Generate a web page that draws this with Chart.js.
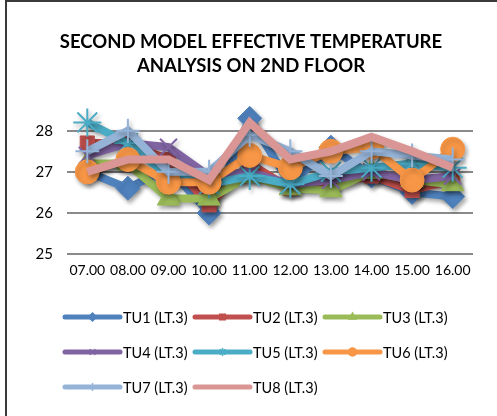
<!DOCTYPE html>
<html>
<head>
<meta charset="utf-8">
<script src="https://cdn.jsdelivr.net/npm/chart.js@4/dist/chart.umd.min.js"></script>
<style>
  body { margin: 0; background: #fff; }
  #wrap { position: relative; width: 497px; height: 416px; }
  #frame { position: absolute; left: 5px; top: 0; width: 492px; height: 416px;
           border-left: 2px solid #3a3a3a; border-top: 2px solid #3a3a3a; box-sizing: border-box; pointer-events: none; }
</style>
</head>
<body>
<div id="wrap">
  <canvas id="chart" width="497" height="416"></canvas>
  <div id="frame"></div>
</div>
<script>
// --- data ---
const hours = ['07.00', '08.00', '09.00', '10.00', '11.00', '12.00', '13.00', '14.00', '15.00', '16.00'];
const tu1 = [27.0, 26.6, 27.1, 26.0, 28.3, 26.7, 27.6, 26.9, 26.5, 26.4];
const tu2 = [27.7, 27.7, 27.3, 26.2, 27.2, 26.6, 26.7, 26.9, 26.55, 26.8];
const tu3 = [27.2, 27.2, 26.35, 26.35, 26.9, 26.6, 26.55, 27.0, 26.8, 26.7];
const tu4 = [27.4, 27.7, 27.6, 26.9, 27.0, 26.7, 26.8, 27.0, 26.8, 26.9];
const tu5 = [28.2, 27.7, 26.9, 26.7, 26.9, 26.7, 27.0, 27.1, 27.2, 27.1];
const tu6 = [27.0, 27.3, 26.75, 26.75, 27.4, 27.1, 27.5, 27.6, 26.8, 27.55];
const tu7 = [27.5, 28.0, 27.0, 27.0, 27.9, 27.5, 26.9, 27.5, 27.4, 27.3];
const tu8 = [27.0, 27.3, 27.3, 26.8, 28.2, 27.3, 27.5, 27.85, 27.5, 27.1];
const yTicks = [25, 26, 27, 28];

const seriesNames = ['TU1 (LT.3)', 'TU2 (LT.3)', 'TU3 (LT.3)', 'TU4 (LT.3)', 'TU5 (LT.3)', 'TU6 (LT.3)', 'TU7 (LT.3)', 'TU8 (LT.3)'];
const seriesData = [tu1, tu2, tu3, tu4, tu5, tu6, tu7, tu8];
const colors = ['#4F81BD', '#C0504D', '#9BBB59', '#8064A2', '#4BACC6', '#F79646', '#95B3D7', '#D99694'];
const markers = ['rectRot', 'rect', 'triangle', 'crossRot', 'star', 'circle', 'cross', false];
const markerSize = [12, 10, 13, 12, 14, 12, 12, 0];

const FONT = 'Lato, "Open Sans", sans-serif';

const datasets = seriesNames.map((name, i) => ({
    label: name,
    data: seriesData[i],
    borderColor: colors[i],
    backgroundColor: colors[i],
    borderWidth: 8,
    tension: 0,
    pointStyle: markers[i],
    pointRadius: markerSize[i],
    pointBorderWidth: (markers[i] === 'crossRot' || markers[i] === 'star' || markers[i] === 'cross') ? 2 : 1,
    pointBackgroundColor: colors[i],
    pointBorderColor: colors[i],
    order: 8 - i,   // TU1 underneath, TU8 on top like the original
    clip: false
}));

// shadow under the series, Excel style
const shadowPlugin = {
    id: 'shadow',
    beforeDatasetsDraw(chart) {
        const c = chart.ctx;
        c.save();
        c.shadowColor = 'rgba(0,0,0,0.35)';
        c.shadowBlur = 4;
        c.shadowOffsetX = 2;
        c.shadowOffsetY = 3;
    },
    afterDatasetsDraw(chart) {
        chart.ctx.restore();
    }
};

// legend: line sample + small marker, 3 per row
const legendPlugin = {
    id: 'lineLegend',
    afterDraw(chart) {
        const c = chart.ctx;
        const left = 65, top = 317, colW = 130, rowH = 35, lineLen = 55;
        c.save();
        c.font = '14.5px ' + FONT;
        c.textBaseline = 'middle';
        seriesNames.forEach((name, i) => {
            const x = left + (i % 3) * colW;
            const y = top + Math.floor(i / 3) * rowH;
            c.strokeStyle = colors[i];
            c.lineWidth = 5;
            c.lineCap = 'round';
            c.beginPath();
            c.moveTo(x, y);
            c.lineTo(x + lineLen, y);
            c.stroke();
            if (markers[i]) {
                c.fillStyle = colors[i];
                c.lineWidth = 1.5;
                c.lineCap = 'butt';
                Chart.helpers.drawPoint(c, {
                    pointStyle: markers[i], radius: 4, borderWidth: 1.5, rotation: 0
                }, x + lineLen / 2, y);
            }
            c.fillStyle = '#000';
            c.fillText(name, x + lineLen + 3, y + 1);
        });
        c.restore();
    }
};

new Chart(document.getElementById('chart'), {
    type: 'line',
    data: { labels: hours, datasets: datasets },
    options: {
        responsive: false,
        animation: false,
        layout: { padding: { left: 29, right: 24, top: 0, bottom: 129 } },
        plugins: {
            legend: { display: false },
            tooltip: { enabled: false },
            title: {
                display: true,
                text: ['SECOND MODEL EFFECTIVE TEMPERATURE', 'ANALYSIS ON 2ND FLOOR'],
                color: '#000',
                font: { family: FONT, size: 18.5, weight: 'bold', lineHeight: 1.3 },
                padding: { top: 30, bottom: 32 }
            }
        },
        scales: {
            x: {
                offset: true,
                grid: { display: false, drawTicks: false },
                border: { display: false },
                ticks: { color: '#000', font: { family: FONT, size: 14 }, padding: 8, maxRotation: 0 }
            },
            y: {
                min: 25,
                max: 28.5,
                afterFit(scale) { scale.width = 38; },
                afterBuildTicks(scale) { scale.ticks = yTicks.map(v => ({ value: v })); },
                grid: { color: '#8a8a8a', lineWidth: 2, drawTicks: false },
                border: { display: false },
                ticks: { color: '#000', font: { family: FONT, size: 15 }, padding: 14 }
            }
        }
    },
    plugins: [shadowPlugin, legendPlugin]
});
</script>
</body>
</html>
